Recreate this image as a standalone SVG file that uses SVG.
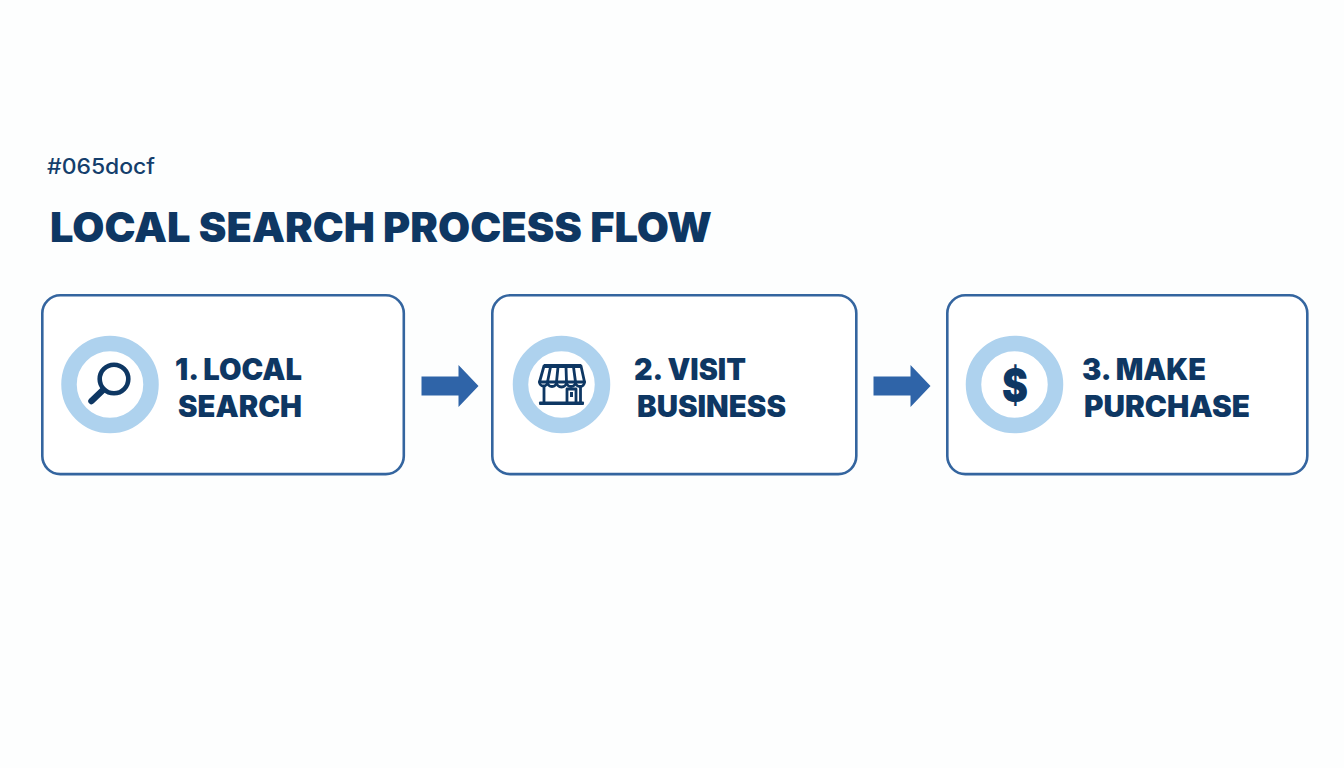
<svg xmlns="http://www.w3.org/2000/svg" width="1344" height="768" viewBox="0 0 1344 768">
<style>
.box{fill:#fff;stroke:#34659f;stroke-width:2.6}
.ring{fill:#fff;stroke:#aed2ee;stroke-width:15.500}
.lbl{font-family:Inter,"Liberation Sans",sans-serif;font-weight:900;font-size:29.5px;fill:#0e3763}
.ico{fill:none;stroke:#0e3763;stroke-width:2.800;stroke-linejoin:round;stroke-linecap:round}
.arr{fill:#2f64a8}
</style>
<rect width="1344" height="768" fill="#fdfefe"/>
<text x="47" y="174" textLength="108" lengthAdjust="spacingAndGlyphs" style="font-family:Inter,'Liberation Sans',sans-serif;font-weight:500;font-size:21px;fill:#143e6c">#065docf</text>
<text x="50" y="242" textLength="662" lengthAdjust="spacingAndGlyphs" style="font-family:Inter,'Liberation Sans',sans-serif;font-weight:900;font-size:41px;fill:#0e3763">LOCAL SEARCH PROCESS FLOW</text>
<g id="node-1">
<rect class="box" x="42.300" y="295.300" width="361.500" height="178.800" rx="18"/>
<circle class="ring" cx="110" cy="384.500" r="41"/>
<circle cx="114" cy="379" r="14.300" fill="none" stroke="#0e3763" stroke-width="4.600"/>
<line x1="103" y1="390" x2="91.500" y2="401" stroke="#0e3763" stroke-width="6.500" stroke-linecap="round"/>
<text class="lbl" x="175" y="380" textLength="127" lengthAdjust="spacingAndGlyphs">1. LOCAL</text>
<text class="lbl" x="178" y="416.500" textLength="124" lengthAdjust="spacingAndGlyphs">SEARCH</text>
</g>
<g id="node-2">
<rect class="box" x="492.300" y="295.300" width="364" height="178.800" rx="18"/>
<circle class="ring" cx="561.500" cy="384.500" r="41"/>
<rect x="544" y="364" width="37" height="4" fill="#0e3763"/>
<path class="ico" d="M544 366L539.500 382M581 366L584.500 382M539.500 382H584.500M550.500 367L547.500 382M558 367L556.500 382M566 367L566.500 382M573.500 367L575.500 382"/>
<path class="ico" d="M539.500 382A4 4 0 0 0 547.500 382A4.500 4.500 0 0 0 556.500 382A5 5 0 0 0 566.500 382A4.500 4.500 0 0 0 575.500 382A4.500 4.500 0 0 0 584.500 382"/>
<path class="ico" d="M544 387V403M580.500 387V403M567 403V389H576V403"/>
<rect x="539" y="401.500" width="45" height="3.500" rx="1" fill="#0e3763"/>
<rect x="570" y="392" width="3" height="5" fill="#0e3763"/>
<text class="lbl" x="634" y="380" textLength="112" lengthAdjust="spacingAndGlyphs">2. VISIT</text>
<text class="lbl" x="637" y="416.500" textLength="149" lengthAdjust="spacingAndGlyphs">BUSINESS</text>
</g>
<g id="node-3">
<rect class="box" x="947.300" y="295.300" width="360" height="178.800" rx="18"/>
<circle class="ring" cx="1014.500" cy="384.500" r="41"/>
<text x="1002" y="401.500" textLength="26" lengthAdjust="spacingAndGlyphs" style="font-family:Inter,'Liberation Sans',sans-serif;font-weight:900;font-size:47px;fill:#0e3763">$</text>
<text class="lbl" x="1082" y="380" textLength="124" lengthAdjust="spacingAndGlyphs">3. MAKE</text>
<text class="lbl" x="1084" y="416.500" textLength="166" lengthAdjust="spacingAndGlyphs">PURCHASE</text>
</g>
<g id="connectors">
<polygon class="arr" points="421.500,376.500 458.500,376.500 458.500,365 478.500,386 458.500,407 458.500,395.500 421.500,395.500"/>
<polygon class="arr" points="873.500,376.500 910.500,376.500 910.500,365 930.500,386 910.500,407 910.500,395.500 873.500,395.500"/>
</g>
</svg>
